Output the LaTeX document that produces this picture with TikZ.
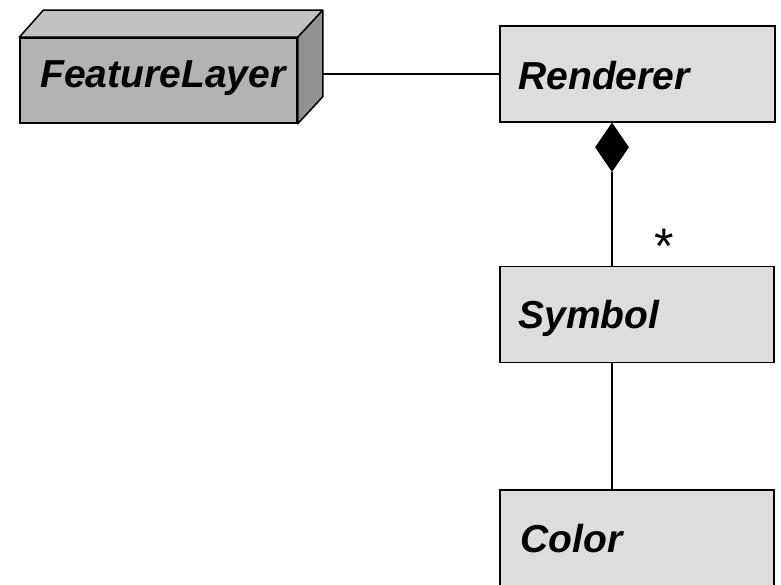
\documentclass[tikz,border=0pt]{standalone}
\usepackage{fontspec}
\setmainfont{Liberation Sans}
\usetikzlibrary{positioning,shapes.geometric}
\definecolor{boxfill}{RGB}{221,221,221}
\definecolor{frontgray}{RGB}{178,178,178}
\definecolor{topgray}{RGB}{194,194,194}
\definecolor{sidegray}{RGB}{145,145,145}

\begin{document}
\begin{tikzpicture}[
		x=1pt,y=-1pt,
		font=\fontsize{39}{44}\selectfont\bfseries\itshape,
		umlbox/.style={draw,line width=1.5pt,fill=boxfill,minimum width=274pt,minimum height=96pt,inner sep=0pt},
		conn/.style={line width=1.5pt},
		composite/.style={diamond,draw,fill=black,line width=1pt,minimum width=33pt,minimum height=48pt,inner sep=0pt}]
		\useasboundingbox (0,0) rectangle (781,585);
		
		% Draw the 3d package box
		\node[umlbox,fill=frontgray,minimum width=277pt,minimum height=85pt] (fl) at (158.5,80.5) {};
		\filldraw[fill=topgray,line width=1.5pt,line join=round]
		(fl.north west) -- ++(24,-27) -- ([shift={(25,-27)}]fl.north east) -- (fl.north east) -- cycle;
		\filldraw[fill=sidegray,line width=1.5pt,line join=round]
		(fl.north east) -- ++(25,-27) -- ([shift={(25,-27)}]fl.south east) -- (fl.south east) -- cycle;
		\node[anchor=base west,inner sep=0pt] (fl-txt) at ([xshift=21]fl.west |- 0,88) {FeatureLayer};
		
		% Classes
		\node[umlbox,minimum width=275pt] (ren) at (637.5,74) {};
		\node[anchor=base west,inner sep=0pt] (ren-txt) at ([xshift=19]ren.west |- 0,90) {Renderer};
		\node[umlbox] (sym) at (637,314.5) {};
		\node[anchor=base west,inner sep=0pt] (sym-txt) at ([xshift=19]sym.west |- 0,328) {Symbol};
		\node[umlbox] (col) at (637,538) {};
		\node[anchor=base west,inner sep=0pt] (col-txt) at ([xshift=21]col.west |- 0,552) {Color};
		
		% Draw associations
		\coordinate (fl-end) at ([xshift=25]fl.east |- ren.west);
		\draw[conn] (fl-end) -- (ren.west);
		\node[composite,anchor=north] (dia) at (ren.south -| 612,0) {};
		\coordinate (sym-top) at (sym.north -| dia.south);
		\draw[conn] (dia.south) -- (sym-top);
		\node[font=\fontsize{50}{52}\selectfont,anchor=base,inner sep=0pt] (mult) at (664,263) {*};
		\coordinate (sym-bot) at (sym.south -| dia.south);
		\coordinate (col-top) at (col.north -| dia.south);
		\draw[conn] (sym-bot) -- (col-top);
		
\end{tikzpicture}
\end{document}
